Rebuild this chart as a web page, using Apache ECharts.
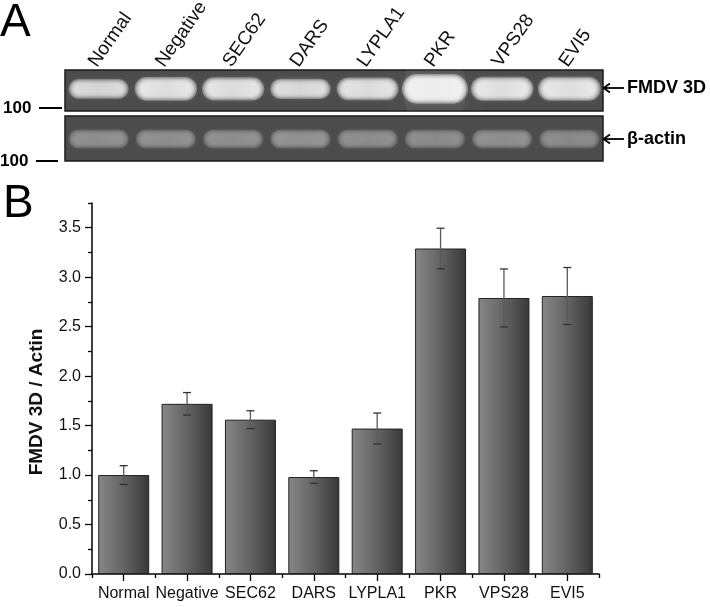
<!DOCTYPE html>
<html><head><meta charset="utf-8">
<script src="https://cdn.jsdelivr.net/npm/echarts@6/dist/echarts.min.js"></script>
<style>html,body{margin:0;padding:0;background:#fff}#c{width:710px;height:607px}</style>
</head><body><div id="c"></div>
<script>
// ---- data ----
const categories = ['Normal', 'Negative', 'SEC62', 'DARS', 'LYPLA1', 'PKR', 'VPS28', 'EVI5'];
const ratioValues = [1.00, 1.72, 1.56, 0.98, 1.47, 3.29, 2.79, 2.81];
const ratioErrors = [0.095, 0.114, 0.090, 0.064, 0.157, 0.205, 0.293, 0.288];
const fmdvBandIntensity = [0.75, 0.85, 0.84, 0.77, 0.83, 1.00, 0.86, 0.86];
const actinBandIntensity = [0.55, 0.55, 0.55, 0.56, 0.54, 0.53, 0.55, 0.52];
const yMajorTicks = [0, 0.5, 1.0, 1.5, 2.0, 2.5, 3.0, 3.5];
const yMinorTicks = [0.25, 0.75, 1.25, 1.75, 2.25, 2.75, 3.25, 3.75];
const markerLabels = ['100', '100'];
const bandLabels = ['FMDV 3D', 'β-actin'];
const yAxisTitle = 'FMDV 3D / Actin';

const FONT = 'Liberation Sans, Arial, sans-serif';
const GEL_BG = 76;
const chart = echarts.init(document.getElementById('c'), null, { renderer: 'canvas' });

function rgba(v, a) { v = Math.max(0, Math.min(255, Math.round(v))); return 'rgba(' + v + ',' + v + ',' + v + ',' + a + ')'; }

function bandRenderer(kind) {
  return function (params, api) {
    const idx = api.value(0);
    const I = api.value(1);
    const laneW = api.size([1, 0])[0];
    const cs = params.coordSys;
    let centerVal, w, h, core;
    if (kind === 'fmdv') {
      centerVal = 0.54;
      w = 48 + (I - 0.75) * 24;
      h = 10 + (I - 0.75) * 40;
      core = 140 + I * 100;
    } else {
      centerVal = 0.49;
      w = 48;
      h = 9;
      core = 40 + I * 190;
    }
    const layers = 5, alpha = 0.35;
    const v = GEL_BG + (core - GEL_BG) / (1 - Math.pow(1 - alpha, layers));
    const c = api.coord([idx, centerVal]);
    const children = [];
    if (kind === 'fmdv' && I > 0.95) {
      children.push({
        type: 'rect',
        shape: { x: c[0] - laneW * 0.45, y: cs.y - 10, width: laneW * 0.9, height: cs.height + 20, r: 20 },
        style: { fill: 'rgba(255,255,255,0.06)', shadowBlur: 16, shadowColor: 'rgba(255,255,255,0.12)' }
      });
    }
    for (let k = 0; k < layers; k++) {
      const g = (layers - 1 - k);
      const ww = w + g * 3, hh = h + g * 2.4;
      children.push({
        type: 'rect',
        shape: { x: c[0] - ww / 2, y: c[1] - hh / 2, width: ww, height: hh, r: hh / 2 },
        style: {
          fill: new echarts.graphic.LinearGradient(0, 0, 1, 0, [
            { offset: 0, color: rgba(v, alpha) }, { offset: 0.5, color: rgba(v * 0.95, alpha) }, { offset: 1, color: rgba(v, alpha) }
          ]),
          shadowBlur: 4, shadowColor: rgba(v, alpha * 0.6)
        }
      });
    }
    return { type: 'group', children: children };
  };
}

function errRenderer(params, api) {
  const i = api.value(0);
  const lo = api.coord([i, api.value(1)]);
  const hi = api.coord([i, api.value(2)]);
  const cap = 4;
  return {
    type: 'group',
    children: [
      { type: 'line', shape: { x1: hi[0], y1: hi[1], x2: lo[0], y2: lo[1] }, style: { stroke: '#5a5a5a', lineWidth: 1.3 } },
      { type: 'line', shape: { x1: hi[0] - cap, y1: hi[1], x2: hi[0] + cap, y2: hi[1] }, style: { stroke: '#333', lineWidth: 1.3 } },
      { type: 'line', shape: { x1: lo[0] - cap, y1: lo[1], x2: lo[0] + cap, y2: lo[1] }, style: { stroke: '#333', lineWidth: 1.3 } }
    ]
  };
}

const gelBg = 'rgb(' + GEL_BG + ',' + GEL_BG + ',' + GEL_BG + ')';

const option = {
  backgroundColor: '#ffffff',
  animation: false,
  textStyle: { fontFamily: FONT },
  grid: [
    { left: 65, top: 70, width: 538, height: 41, show: true, backgroundColor: gelBg, borderColor: '#1a1a1a', borderWidth: 1.5, containLabel: false, outerBoundsMode: 'none' },
    { left: 65, top: 116, width: 538, height: 45, show: true, backgroundColor: gelBg, borderColor: '#1a1a1a', borderWidth: 1.5, containLabel: false, outerBoundsMode: 'none' },
    { left: 59, top: 70, width: 538, height: 41, show: false, containLabel: false, outerBoundsMode: 'none' },
    { left: 92, top: 203, width: 507, height: 371, show: false, containLabel: false, outerBoundsMode: 'none' }
  ],
  xAxis: [
    { gridIndex: 0, type: 'category', data: categories, show: false },
    { gridIndex: 1, type: 'category', data: categories, show: false },
    {
      gridIndex: 2, type: 'category', data: categories, position: 'top',
      axisLine: { show: false }, axisTick: { show: false },
      axisLabel: { interval: 0, rotate: 55, margin: 5, fontSize: 19, color: '#111', fontFamily: FONT }
    },
    {
      gridIndex: 3, type: 'category', data: categories, position: 'bottom',
      axisLine: { show: true, onZero: false, lineStyle: { color: '#000', width: 1.5 } },
      axisTick: { show: true, alignWithLabel: true, length: 7, lineStyle: { color: '#000', width: 1.3 } },
      axisLabel: { interval: 0, margin: 12, fontSize: 16, color: '#111', fontFamily: FONT },
      splitLine: { show: false }
    },
    {
      gridIndex: 3, type: 'category', data: categories, position: 'bottom',
      axisLine: { show: false, onZero: false },
      axisTick: { show: true, alignWithLabel: false, interval: 0, length: 4, lineStyle: { color: '#000', width: 1.3 } },
      axisLabel: { show: false }, splitLine: { show: false }
    }
  ],
  yAxis: [
    { gridIndex: 0, type: 'value', min: 0, max: 1, show: false },
    { gridIndex: 1, type: 'value', min: 0, max: 1, show: false },
    { gridIndex: 2, type: 'value', min: 0, max: 1, show: false },
    {
      gridIndex: 3, type: 'value', min: 0, max: 3.75, position: 'left',
      axisLine: { show: true, onZero: false, lineStyle: { color: '#000', width: 1.5 } },
      axisTick: { show: true, length: 7, customValues: yMajorTicks, lineStyle: { color: '#000', width: 1.3 } },
      axisLabel: { customValues: yMajorTicks, formatter: v => Number(v).toFixed(1), margin: 11, fontSize: 16, color: '#111', fontFamily: FONT },
      splitLine: { show: false },
      name: yAxisTitle, nameLocation: 'middle', nameGap: 46, nameRotate: 90,
      nameTextStyle: { fontSize: 19, fontWeight: 'bold', color: '#111', fontFamily: FONT, padding: [0, 27, 0, 0] }
    },
    {
      gridIndex: 3, type: 'value', min: 0, max: 3.75, position: 'left',
      axisLine: { show: false, onZero: false },
      axisTick: { show: true, length: 4, customValues: yMinorTicks, lineStyle: { color: '#000', width: 1.3 } },
      axisLabel: { show: false }, splitLine: { show: false }
    }
  ],
  series: [
    {
      type: 'custom', xAxisIndex: 0, yAxisIndex: 0, clip: true,
      data: fmdvBandIntensity.map((v, i) => [i, v]),
      renderItem: bandRenderer('fmdv')
    },
    {
      type: 'custom', xAxisIndex: 1, yAxisIndex: 1, clip: true,
      data: actinBandIntensity.map((v, i) => [i, v]),
      renderItem: bandRenderer('actin')
    },
    {
      type: 'bar', xAxisIndex: 3, yAxisIndex: 3, barWidth: 51,
      data: ratioValues,
      itemStyle: {
        color: new echarts.graphic.LinearGradient(0, 0, 1, 0, [
          { offset: 0, color: '#878787' }, { offset: 0.5, color: '#636363' }, { offset: 1, color: '#383838' }
        ]),
        borderColor: '#222', borderWidth: 1
      }
    },
    {
      type: 'custom', xAxisIndex: 3, yAxisIndex: 3, z: 10,
      data: ratioValues.map((v, i) => [i, v - ratioErrors[i], v + ratioErrors[i]]),
      renderItem: errRenderer
    }
  ],
  graphic: [
    { type: 'text', left: 0, top: 0, style: { text: 'A', font: '46px ' + FONT, fill: '#000' } },
    { type: 'text', left: 3, top: 181, style: { text: 'B', font: '46px ' + FONT, fill: '#000' } },
    { type: 'text', x: 3, y: 108, style: { text: markerLabels[0], font: 'bold 17px ' + FONT, fill: '#000', verticalAlign: 'middle' } },
    { type: 'line', shape: { x1: 39, y1: 108, x2: 62, y2: 108 }, style: { stroke: '#000', lineWidth: 2 } },
    { type: 'text', x: 0, y: 161, style: { text: markerLabels[1], font: 'bold 17px ' + FONT, fill: '#000', verticalAlign: 'middle' } },
    { type: 'line', shape: { x1: 36, y1: 161, x2: 58, y2: 161 }, style: { stroke: '#000', lineWidth: 2 } },
    { type: 'line', shape: { x1: 604, y1: 88, x2: 624, y2: 88 }, style: { stroke: '#000', lineWidth: 1.8 } },
    { type: 'polyline', shape: { points: [[610, 83.5], [603.5, 88], [610, 92.5]] }, style: { stroke: '#000', lineWidth: 1.8, fill: null } },
    { type: 'text', x: 627, y: 88, style: { text: bandLabels[0], font: 'bold 18px ' + FONT, fill: '#000', verticalAlign: 'middle' } },
    { type: 'line', shape: { x1: 604, y1: 139, x2: 624, y2: 139 }, style: { stroke: '#000', lineWidth: 1.8 } },
    { type: 'polyline', shape: { points: [[610, 134.5], [603.5, 139], [610, 143.5]] }, style: { stroke: '#000', lineWidth: 1.8, fill: null } },
    { type: 'text', x: 627, y: 139, style: { text: bandLabels[1], font: 'bold 18px ' + FONT, fill: '#000', verticalAlign: 'middle' } }
  ]
};
chart.setOption(option);
</script>
</body></html>
